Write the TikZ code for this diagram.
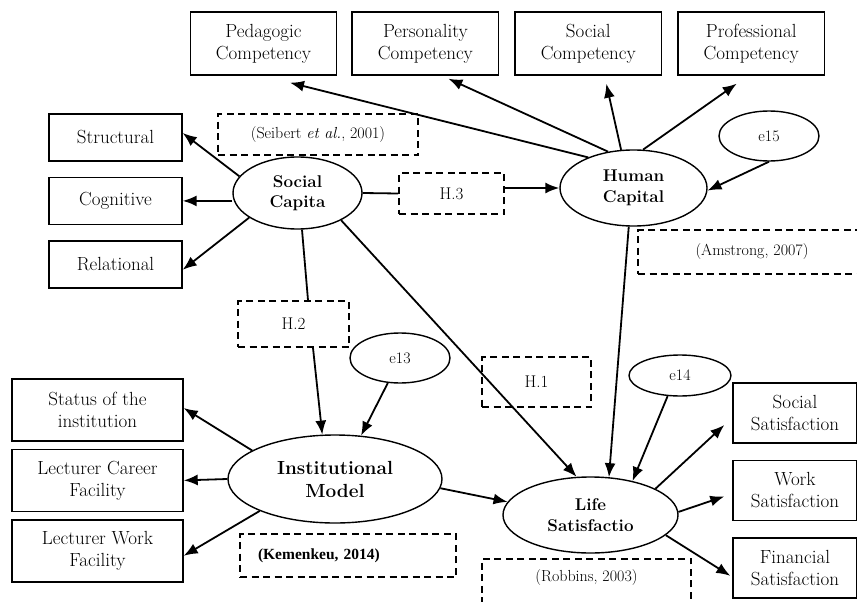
\documentclass[tikz,border=0pt]{standalone}
\usepackage{fontspec}
\newfontfamily\kemfont{Liberation Serif}
\usetikzlibrary{shapes.geometric,arrows.meta,positioning}

\begin{document}
\begin{tikzpicture}[x=1pt,y=-1pt,
    indbox/.style={draw, line width=1.4pt, align=center, inner sep=2pt,
      font=\fontsize{19pt}{22pt}\selectfont},
    latent/.style={draw, ellipse, line width=1.4pt, align=center, inner sep=0pt,
      font=\fontsize{17pt}{20.5pt}\selectfont\bfseries},
    errvar/.style={draw, ellipse, line width=1.4pt, inner sep=0pt,
      minimum width=100pt, font=\fontsize{16pt}{18pt}\selectfont},
    citebox/.style={draw, line width=1.8pt, dash pattern=on 7pt off 4.5pt,
      align=center, inner sep=0pt, font=\fontsize{16pt}{18pt}\selectfont},
    hypbox/.style={citebox, font=\fontsize{17pt}{19pt}\selectfont},
    bond/.style={line width=1.8pt},
    link/.style={bond, -{Latex[length=14pt,width=11pt]}}]
  \path[use as bounding box, fill=white] (0,0) rectangle (857,602);

      \node[indbox, minimum width=146.5pt, minimum height=63pt] (ped) at (263.5,43.5) {Pedagogic\\Competency};
      \node[indbox, minimum width=146.5pt, minimum height=63pt, right=14pt of ped] (pers) {Personality\\Competency};
      \node[indbox, minimum width=146.5pt, minimum height=63pt, right=15pt of pers] (soc) {Social\\Competency};
      \node[indbox, minimum width=146.5pt, minimum height=63pt, right=15pt of soc] (prof) {Professional\\Competency};

      \node[indbox, minimum width=133pt, minimum height=47pt] (struct) at (115.5,137.5) {Structural};
      \node[indbox, minimum width=133pt, minimum height=47pt, below=15pt of struct] (cog) {Cognitive};
      \node[indbox, minimum width=133pt, minimum height=47pt, below=15pt of cog] (rel) {Relational};

      \node[indbox, minimum width=171pt, minimum height=62pt] (stat) at (97.5,410) {Status of the\\institution};
      \node[indbox, minimum width=171pt, minimum height=62pt, below=7pt of stat] (career) {Lecturer Career\\Facility};
      \node[indbox, minimum width=171pt, minimum height=62pt, below=7pt of career] (work) {Lecturer Work\\Facility};

      \node[indbox, minimum width=124pt, minimum height=60pt] (socsat) at (795,413) {Social\\Satisfaction};
      \node[indbox, minimum width=124pt, minimum height=60pt, below=16pt of socsat] (worksat) {Work\\Satisfaction};
      \node[indbox, minimum width=124pt, minimum height=60pt, below=16pt of worksat] (finsat) {Financial\\Satisfaction};

      \node[latent, minimum width=129pt, minimum height=72pt] (sc) at (297.5,193) {Social\\Capita};
      \node[latent, minimum width=147pt, minimum height=76pt] (hc) at (633.5,188) {Human\\Capital};
      \node[latent, minimum width=214pt, minimum height=88pt,
        font=\fontsize{19pt}{23pt}\selectfont\bfseries] (im) at (335,479) {Institutional\\Model};
      \node[latent, minimum width=175pt, minimum height=76pt] (ls) at (590.5,515) {Life\\Satisfactio};

      \node[errvar, minimum height=50pt] (e15) at (769,136) {e15};
      \node[errvar, minimum height=50pt] (e13) at (400,358) {e13};
      \node[errvar, minimum width=102pt, minimum height=41pt] (e14) at (680,375.5) {e14};

      \node[citebox, minimum width=200pt, minimum height=41pt] (seib) at (318,134.5) {(Seibert \textit{et al.}, 2001)};
      \node[citebox, minimum width=228pt, minimum height=44pt] (amst) at (752,252) {(Amstrong, 2007)};
      \node[citebox, minimum width=216pt, minimum height=43pt, text width=180pt, inner xsep=18pt, align=left,
        font=\kemfont\fontsize{15.5pt}{18pt}\selectfont\bfseries] (kem) at (348,555.5) {(Kemenkeu, 2014)};
      \node[citebox, minimum width=209pt, anchor=north, inner ysep=11.5pt,
        text height=11pt, text depth=50pt] (rob) at (586.5,558) {(Robbins, 2003)};

      \node[hypbox, minimum width=105pt, minimum height=41pt] (h3) at (451.5,193.5) {H.3};
      \node[hypbox, minimum width=111pt, minimum height=46pt] (h2) at (293.5,324) {H.2};
      \node[hypbox, minimum width=109pt, minimum height=50pt] (h1) at (536.5,382) {H.1};

      \draw[link] (sc.164) -- ([yshift=4.5pt]struct.east);
      \draw[link] (sc.west |- cog.east) -- (cog.east);
      \draw[link] (sc.207) -- ([yshift=-5.5pt]rel.east);
      \draw[bond] (sc.east) -- (h3.west);
      \draw[link] (h3.east |- hc.west) -- (hc.west);
      \draw[bond] (sc.277) -- ([xshift=14.5pt]h2.north);
      \draw[link] ([xshift=19.5pt]h2.south) -- (im.106);
      \draw[link] (e13.244) -- (im.59);
      \draw[link] (sc.328) -- (ls.110);

      \draw[link] (im.161) -- ([yshift=2pt]stat.east);
      \draw[link] (im.west) -- (career.east);
      \draw[link] (im.203) -- ([yshift=-5pt]work.east);
      \draw[link] (im.355) -- (ls.171);

      \draw[link] (hc.263) -- (ls.64);
      \draw[link] (e14.239) -- (ls.39);
      \draw[link] (ls.22) -- ([xshift=-8pt,yshift=-12pt]socsat.west);
      \draw[link] (ls.2) -- ([xshift=-8pt,yshift=-6pt]worksat.west);
      \draw[link] (ls.345) -- ([xshift=-2pt,yshift=-8pt]finsat.west);

      \draw[link] (e15.south) -- (hc.358);
      \draw[link] (hc.146) -- ([xshift=26.5pt,yshift=-7pt]ped.south);
      \draw[link] (hc.125) -- ([xshift=23pt,yshift=-3pt]pers.south);
      \draw[link] (hc.108) -- ([xshift=18pt,yshift=-8pt]soc.south);
      \draw[link] (hc.76) -- ([xshift=-14.5pt,yshift=-8pt]prof.south);
\end{tikzpicture}
\end{document}
